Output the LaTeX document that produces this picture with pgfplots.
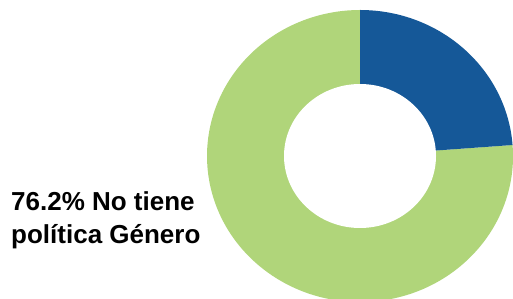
\documentclass[border=0pt]{standalone}
\usepackage{pgfplots}
\pgfplotsset{compat=1.18}
\usepackage{pgfplotstable}
\usepackage{fontspec}
\setmainfont{Liberation Sans}
\definecolor{cblue}{RGB}{21,88,152}
\definecolor{cgreen}{RGB}{176,213,122}
\pgfplotstableread{
label value
Tiene 23.8
NoTiene 76.2
}\datatable
\pgfplotstablegetelem{0}{value}\of\datatable \let\va\pgfplotsretval
\newcommand\labfont{\fontsize{26pt}{32.5pt}\selectfont\bfseries}
\begin{document}
\begin{tikzpicture}
\begin{axis}[
  scale only axis, width=513pt, height=299pt,
  xmin=0, xmax=513, ymin=0, ymax=299,
  hide axis, clip=true,
]
\pgfmathsetmacro{\ang}{90-3.6*\va}
\fill[cgreen] (axis cs:360,143) -- ++(\ang:153pt and 146pt) arc[start angle=\ang, end angle=-270, x radius=153pt, y radius=146pt] -- cycle;
\fill[cblue] (axis cs:360,143) -- ++(90:153pt and 146pt) arc[start angle=90, end angle=\ang, x radius=153pt, y radius=146pt] -- cycle;
\fill[white] (axis cs:360,143) ellipse[x radius=76pt, y radius=72pt];
\node[anchor=base west, align=left, font=\labfont, inner sep=0pt] at (axis cs:11,55.5) {76.2\% No tiene\\política Género};
\end{axis}
\pgfresetboundingbox
\useasboundingbox (0,0) rectangle (513pt,299pt);
\end{tikzpicture}
\end{document}
